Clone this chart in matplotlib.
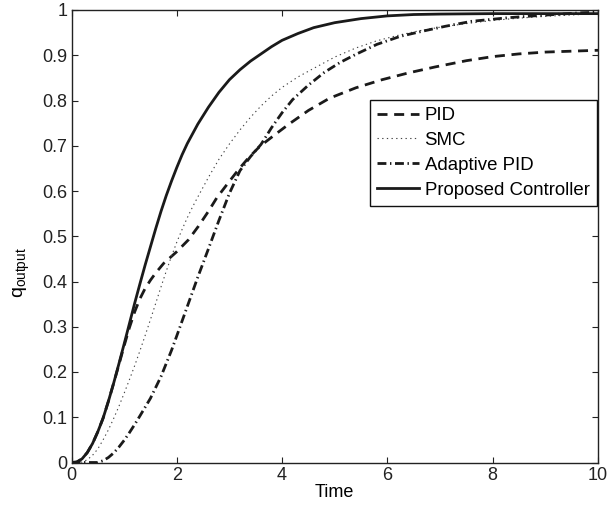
import matplotlib
matplotlib.use("Agg")
import matplotlib.pyplot as plt

# values
t_prop = [0, 0.1, 0.2, 0.3, 0.4, 0.5, 0.6, 0.7, 0.8, 0.9, 1.0, 1.1, 1.2, 1.3, 1.4, 1.5, 1.6, 1.7,
          1.8, 1.9, 2.0, 2.1, 2.2, 2.4, 2.6, 2.8, 3.0, 3.2, 3.4, 3.6, 3.8, 4.0, 4.3, 4.6, 5.0, 5.5,
          6.0, 6.5, 7.0, 8.0, 9.0, 10.0]
q_prop = [0, 0.001, 0.008, 0.022, 0.042, 0.068, 0.098, 0.135, 0.175, 0.218, 0.262, 0.307, 0.352,
          0.395, 0.437, 0.477, 0.517, 0.555, 0.59, 0.622, 0.652, 0.68, 0.705, 0.748, 0.785, 0.818,
          0.846, 0.868, 0.887, 0.903, 0.919, 0.933, 0.948, 0.961, 0.972, 0.981, 0.987, 0.99, 0.991,
          0.992, 0.992, 0.992]

t_pid = [0, 0.1, 0.2, 0.3, 0.4, 0.5, 0.6, 0.7, 0.8, 0.9, 1.0, 1.1, 1.2, 1.3, 1.4, 1.5, 1.6, 1.75,
         2.0, 2.22, 2.41, 2.6, 2.76, 2.95, 3.17, 3.36, 3.58, 3.87, 4.12, 4.5, 4.9, 5.4, 5.9, 6.4,
         6.9, 7.5, 8.0, 8.5, 9.0, 9.5, 10.0]
q_pid = [0, 0.001, 0.008, 0.022, 0.042, 0.068, 0.098, 0.135, 0.175, 0.216, 0.258, 0.298, 0.333,
         0.362, 0.385, 0.403, 0.419, 0.44, 0.466, 0.492, 0.522, 0.555, 0.585, 0.614, 0.647, 0.673,
         0.699, 0.725, 0.747, 0.778, 0.805, 0.828, 0.846, 0.861, 0.874, 0.888, 0.897, 0.903, 0.907,
         0.909, 0.911]

t_smc = [0, 0.2, 0.3, 0.4, 0.5, 0.6, 0.7, 0.8, 0.9, 1.0, 1.1, 1.2, 1.3, 1.4, 1.5, 1.6, 1.7, 1.8,
         1.9, 2.0, 2.1, 2.2, 2.3, 2.4, 2.6, 2.8, 3.0, 3.2, 3.4, 3.6, 3.8, 4.0, 4.3, 4.6, 5.0, 5.4,
         5.8, 6.2, 6.6, 7.0, 7.5, 8.0, 8.5, 9.0, 9.5, 10.0]
q_smc = [0, 0.001, 0.006, 0.016, 0.03, 0.05, 0.072, 0.097, 0.124, 0.153, 0.183, 0.214, 0.247,
         0.281, 0.316, 0.352, 0.388, 0.423, 0.456, 0.487, 0.515, 0.541, 0.565, 0.587, 0.63, 0.67,
         0.704, 0.735, 0.763, 0.788, 0.81, 0.829, 0.852, 0.871, 0.896, 0.916, 0.932, 0.944, 0.954,
         0.962, 0.97, 0.977, 0.982, 0.986, 0.989, 0.992]

t_apid = [0, 0.5, 0.6, 0.7, 0.8, 0.9, 1.0, 1.1, 1.2, 1.3, 1.5, 1.7, 1.9, 2.0, 2.2, 2.4, 2.6, 2.8,
          3.0, 3.2, 3.4, 3.6, 3.8, 4.0, 4.2, 4.5, 4.8, 5.1, 5.4, 5.8, 6.25, 6.7, 7.1, 7.6, 8.3,
          8.9, 9.7, 10.0]
q_apid = [0, 0, 0.004, 0.011, 0.021, 0.034, 0.049, 0.066, 0.084, 0.103, 0.142, 0.19, 0.248, 0.28,
          0.345, 0.41, 0.472, 0.535, 0.595, 0.645, 0.676, 0.703, 0.74, 0.773, 0.802, 0.834, 0.862,
          0.884, 0.902, 0.924, 0.942, 0.954, 0.964, 0.975, 0.983, 0.988, 0.994, 0.995]

plt.rcParams["font.family"] = ["Liberation Sans", "DejaVu Sans"]
plt.rcParams["mathtext.fontset"] = "custom"
plt.rcParams["mathtext.rm"] = "Liberation Sans"
plt.rcParams["mathtext.it"] = "Liberation Sans"

fig = plt.figure(figsize=(6.07, 5.12), dpi=100)
ax = fig.add_axes([71.5 / 607, 49.5 / 512, 526.5 / 607, 452.5 / 512])

ax.plot(t_pid, q_pid, color="#1a1a1a", lw=2.0, dashes=(3.6, 2.4), label="PID")
ax.plot(t_smc, q_smc, color="#444444", lw=0.8, dashes=(1.2, 3.0), label="SMC")
ax.plot(t_apid, q_apid, color="#1a1a1a", lw=2.0, dashes=(3.2, 1.3, 0.5, 1.3), label="Adaptive PID")
ax.plot(t_prop, q_prop, color="#1a1a1a", lw=2.0, label="Proposed Controller")

ax.set_xlim(0, 10)
ax.set_ylim(0, 1)
ax.set_xticks([0, 2, 4, 6, 8, 10])
ax.set_yticks([0, 0.1, 0.2, 0.3, 0.4, 0.5, 0.6, 0.7, 0.8, 0.9, 1])
ax.set_yticklabels(["0", "0.1", "0.2", "0.3", "0.4", "0.5", "0.6", "0.7", "0.8", "0.9", "1"])
ax.tick_params(direction="in", top=True, right=True, length=4, width=0.8,
               labelsize=13, pad=3, colors="#222222")
for s in ax.spines.values():
    s.set_linewidth(1.0)
    s.set_color("#222222")

ax.set_xlabel("Time", fontsize=13, labelpad=0)
ax.set_ylabel(r"$\mathrm{q_{output}}$", fontsize=14)
ax.yaxis.set_label_coords(-0.075, 0.42)

leg = ax.legend(loc="upper left", bbox_to_anchor=(0.567, 0.801), fontsize=13.4,
                handlelength=2.25, handletextpad=0.3, labelspacing=0.42, borderpad=0.38,
                borderaxespad=0, fancybox=False, framealpha=1, edgecolor="#111111")
leg.get_frame().set_linewidth(1.0)

fig.savefig("out.png", dpi=100)
